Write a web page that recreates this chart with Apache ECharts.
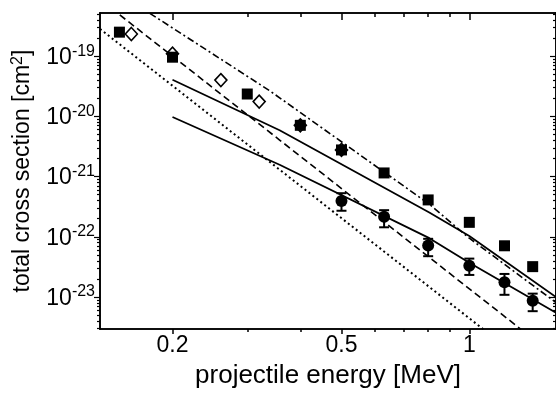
<!DOCTYPE html>
<html>
<head>
<meta charset="utf-8">
<script src="https://cdn.jsdelivr.net/npm/echarts@6/dist/echarts.min.js"></script>
<style>
  html, body { margin: 0; padding: 0; background: #fff; }
  #main { width: 556px; height: 394px; }
</style>
</head>
<body>
<div id="main"></div>
<script>
// filled squares
var squareE = [0.15, 0.2, 0.3, 0.4, 0.5, 0.63, 0.8, 1.0, 1.21, 1.41];
var squareSigma = [2.5e-19, 9.6e-20, 2.35e-20, 7.1e-21, 2.77e-21, 1.15e-21, 4.1e-22, 1.74e-22, 7.1e-23, 3.2e-23];

// open diamonds
var diamondE = [0.16, 0.2, 0.26, 0.32, 0.4, 0.5];
var diamondSigma = [2.33e-19, 1.1e-19, 4.0e-20, 1.76e-20, 7.1e-21, 2.77e-21];

// filled circles with error bars
var circleE = [0.5, 0.63, 0.8, 1.0, 1.21, 1.41];
var circleSigma = [3.95e-22, 2.16e-22, 7.2e-23, 3.3e-23, 1.76e-23, 8.7e-24];
var circleLow = [2.71e-22, 1.44e-22, 4.77e-23, 2.33e-23, 1.09e-23, 5.83e-24];
var circleHigh = [5.3e-22, 2.77e-22, 9.27e-23, 4.35e-23, 2.42e-23, 1.14e-23];

// theory curves
var dottedE = [0.135, 1.079];
var dottedSigma = [2.83e-19, 2.92e-24];
var dashedE = [0.1503, 0.3575, 1.323];
var dashedSigma = [4.83e-19, 4.05e-21, 2.92e-24];
var dashDotE = [0.1769, 0.3386, 0.805, 1.0, 1.6];
var dashDotSigma = [5.14e-19, 2.67e-20, 3.48e-22, 9.5e-23, 8.1e-24];
var solidUpperE = [0.2, 0.3575, 0.805, 1.0, 1.6];
var solidUpperSigma = [4.05e-20, 5.89e-21, 2.54e-22, 1.03e-22, 1.0e-23];
var solidLowerE = [0.2, 0.3575, 0.805, 1.0, 1.6];
var solidLowerSigma = [9.77e-21, 1.57e-21, 9.5e-23, 3.7e-23, 5.5e-24];

// ticks
var xMajor = [0.2, 0.5, 1];
var xMinor = [0.3, 0.4, 0.6, 0.7, 0.8, 0.9];
var yMajor = [1e-23, 1e-22, 1e-21, 1e-20, 1e-19];
var yDecades = [1e-24, 1e-23, 1e-22, 1e-21, 1e-20, 1e-19];
var yMults = [2, 3, 4, 5, 6, 7, 8, 9];

var yMinor = [];
yDecades.forEach(function (d) {
  yMults.forEach(function (m) {
    var v = d * m;
    if (v > 2.95e-24 && v < 5.2e-19) yMinor.push(v);
  });
});

function pairs(xs, ys) {
  return xs.map(function (x, i) { return [x, ys[i]]; });
}

var font = 'Liberation Sans';
var X_MIN = 0.135, X_MAX = 1.6, Y_MIN = 2.95e-24, Y_MAX = 5.2e-19;
var axisLine = { show: true, onZero: false, lineStyle: { color: '#000', width: 1.6 } };

function xAxisDef(pos, ticks, len, inside, labels) {
  return {
    type: 'log', logBase: 10, position: pos, min: X_MIN, max: X_MAX,
    axisLine: axisLine,
    axisTick: { show: true, customValues: ticks, length: len, inside: inside, lineStyle: { color: '#000', width: 1.5 } },
    axisLabel: labels ? {
      customValues: xMajor, color: '#000', fontFamily: font, fontSize: 23, margin: 5,
      formatter: function (v) { return String(+v.toFixed(2)); }
    } : { show: false },
    splitLine: { show: false }, minorTick: { show: false }
  };
}
function yAxisDef(pos, ticks, len, inside, labels) {
  return {
    type: 'log', logBase: 10, position: pos, min: Y_MIN, max: Y_MAX,
    axisLine: axisLine,
    axisTick: { show: true, customValues: ticks, length: len, inside: inside, lineStyle: { color: '#000', width: 1.2 } },
    axisLabel: labels ? {
      customValues: yMajor, color: '#000', fontFamily: font, margin: 5,
      formatter: function (v) { return '{b|10}{s|' + Math.round(Math.log10(v)) + '}'; },
      rich: {
        b: { fontSize: 23, fontFamily: font, color: '#000', lineHeight: 26, verticalAlign: 'bottom' },
        s: { fontSize: 16, fontFamily: font, color: '#000', verticalAlign: 'top', lineHeight: 16 }
      }
    } : { show: false },
    splitLine: { show: false }, minorTick: { show: false }
  };
}

var xAxes = [
  xAxisDef('bottom', xMajor, 5, false, true),
  xAxisDef('bottom', xMinor, 3, false, false),
  xAxisDef('top', xMajor, 7, true, false),
  xAxisDef('top', xMinor, 4, true, false)
];
xAxes[0].name = 'projectile energy [MeV]';
xAxes[0].nameLocation = 'middle';
xAxes[0].nameGap = 34;
xAxes[0].nameTextStyle = { color: '#000', fontFamily: font, fontSize: 26 };

var yAxes = [
  yAxisDef('left', yMajor, 6, false, true),
  yAxisDef('left', yMinor, 3, false, false),
  yAxisDef('right', yMajor, 6, true, false),
  yAxisDef('right', yMinor, 3, true, false)
];
yAxes[0].name = 'total cross section [cm{s|2}]';
yAxes[0].nameLocation = 'middle';
yAxes[0].nameGap = 64;
yAxes[0].nameTextStyle = {
  color: '#000', fontFamily: font, fontSize: 23, lineHeight: 26,
  rich: { s: { fontSize: 16, fontFamily: font, color: '#000', verticalAlign: 'top', lineHeight: 16 } }
};

function lineSeries(xs, ys, type, width, z) {
  return {
    type: 'line', data: pairs(xs, ys), showSymbol: false, symbol: 'none',
    lineStyle: { color: '#000', width: width, type: type, opacity: 1 }, clip: true, z: z || 2,
    silent: true
  };
}

var errData = circleE.map(function (e, i) { return [e, circleLow[i], circleHigh[i]]; });

var chart = echarts.init(document.getElementById('main'), null, { renderer: 'canvas' });
chart.setOption({
  animation: false,
  backgroundColor: '#fff',
  grid: { left: 100, top: 13, width: 456, height: 320, containLabel: false },
  xAxis: xAxes,
  yAxis: yAxes,
  series: [
    lineSeries(dottedE, dottedSigma, [2, 3], 2),
    lineSeries(dashedE, dashedSigma, [7, 4], 1.6),
    lineSeries(dashDotE, dashDotSigma, [7, 3, 2, 3], 1.6),
    lineSeries(solidUpperE, solidUpperSigma, 'solid', 1.8),
    lineSeries(solidLowerE, solidLowerSigma, 'solid', 1.8),
    {
      type: 'custom', data: errData, encode: { x: 0, y: [1, 2] }, z: 4, clip: true,
      renderItem: function (params, api) {
        var hi = api.coord([api.value(0), api.value(2)]);
        var lo = api.coord([api.value(0), api.value(1)]);
        var w = 5;
        var st = { stroke: '#000', lineWidth: 2 };
        return {
          type: 'group', children: [
            { type: 'line', shape: { x1: hi[0], y1: hi[1], x2: lo[0], y2: lo[1] }, style: st },
            { type: 'line', shape: { x1: hi[0] - w, y1: hi[1], x2: hi[0] + w, y2: hi[1] }, style: st },
            { type: 'line', shape: { x1: lo[0] - w, y1: lo[1], x2: lo[0] + w, y2: lo[1] }, style: st }
          ]
        };
      }
    },
    {
      type: 'scatter', data: pairs(diamondE, diamondSigma), symbol: 'diamond', symbolSize: [12, 13], z: 5,
      itemStyle: { color: '#fff', borderColor: '#000', borderWidth: 1.6, opacity: 1 }
    },
    {
      type: 'scatter', data: pairs(squareE, squareSigma), symbol: 'rect', symbolSize: 11, z: 6,
      itemStyle: { color: '#000', opacity: 1 }
    },
    {
      type: 'scatter', data: pairs(circleE, circleSigma), symbol: 'circle', symbolSize: 12, z: 6,
      itemStyle: { color: '#000', opacity: 1 }
    }
  ]
});
</script>
</body>
</html>
